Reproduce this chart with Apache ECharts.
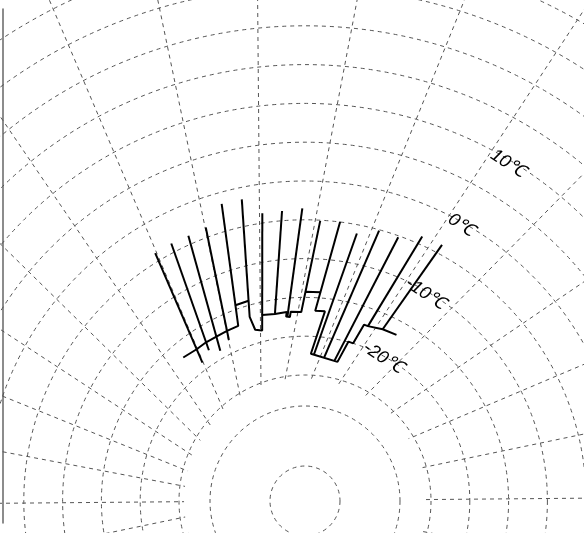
<!DOCTYPE html>
<html><head><meta charset="utf-8">
<script src="https://cdn.jsdelivr.net/npm/echarts@6/dist/echarts.min.js"></script>
<style>html,body{margin:0;padding:0;background:#fff}#c{width:584px;height:533px}</style>
</head><body><div id="c"></div>
<script>
// ---- data (temperatures in degC) ----
const stations = ['S1','S2','S3','S4','S5','S6','S7','S8','S9','S10','S11','S12','S13','S14','S15','S16'];
const maxTemp = [-9.1, -8.7, -8.4, -7.9, -5.2, -4.9, -6.8, -6.4, -5.8, -7.0, -6.5, -7.3, -5.9, -5.6, -4.0, -3.5];
const minTemp = [-24.6, -23.4, -23.9, -22.8, -18.5, -18.1, -20.0, -19.8, -20.0, -16.4, -16.0, -24.0, -23.8, -23.6, -17.6, -16.9];
// stepped base outline: position (in station units) and temperature
const outlinePos  = [-0.4, 1, 2, 3, 4, 5, 5, 6, 6, 6.4, 7, 7, 8, 8.9, 8.9, 9.2, 9.2, 10, 10, 11, 11, 11.7, 11.7, 14.3, 14.3, 14.7, 14.7, 15, 16, 17];
const outlineTemp = [-22.9, -22.7, -22.3, -22.0, -21.6, -21.2, -18.5, -18.1, -20.2, -21.9, -22.0, -20.0, -19.8, -19.4, -20.0, -20.0, -19.3, -19.1, -16.4, -16.0, -18.5, -18.2, -24.0, -23.6, -20.6, -20.5, -17.7, -17.6, -16.9, -16.4];
const tempTicks = [-20, -10, 0, 10];
const tempTickLabels = ['-20℃', '-10℃', '0℃', '10℃'];

const grid = {color: '#555', width: 1, type: [4, 4]};
const off = {show: false};
const chart = echarts.init(document.getElementById('c'), null, {renderer: 'canvas'});
chart.setOption({
  animation: false,
  backgroundColor: '#fff',
  grid: {left: 3, top: 9, bottom: 10, width: 1},
  xAxis: {type: 'value', show: false, min: 0, max: 1},
  yAxis: {type: 'value', min: 0, max: 1, axisLine: {show: true, onZero: false, lineStyle: {color: '#666', width: 1.5}},
          axisTick: off, axisLabel: off, splitLine: off},
  polar: [
    {center: [305, 501], radius: [126, 591.6]},
    {center: [305, 501], radius: [35, 95]},
    {center: [305, 501], radius: [0, 121]},
    {center: [262, 501], radius: [0, 800]},
    {center: [262, 501], radius: [109, 725]},
    {center: [262, 501], radius: [109, 725]}
  ],
  angleAxis: [
    {polarIndex: 0, type: 'value', min: 0, max: 360, show: false},
    {polarIndex: 1, type: 'value', min: 0, max: 360, show: false},
    {polarIndex: 2, type: 'value', min: 0, max: 360, show: false},
    {polarIndex: 3, type: 'value', min: 0, max: 360, interval: 11.25, startAngle: 90.5,
     axisLine: off, axisTick: off, axisLabel: off, splitLine: {show: true, lineStyle: grid}, z: 1},
    {polarIndex: 4, type: 'value', min: -0.5, max: 17.5, startAngle: 119.14, endAngle: 49.06, show: false},
    {polarIndex: 5, type: 'value', min: 0, max: 360, startAngle: 56.5, show: false}
  ],
  radiusAxis: [
    {polarIndex: 0, type: 'value', min: 0, max: 12, interval: 1, axisLine: off, axisTick: off, axisLabel: off,
     splitLine: {show: true, lineStyle: grid}, z: 3},
    {polarIndex: 1, type: 'value', min: 0, max: 1, interval: 1, axisLine: off, axisTick: off, axisLabel: off,
     splitLine: {show: true, lineStyle: grid}, z: 3},
    {polarIndex: 2, type: 'value', min: 0, max: 1, interval: 1, axisLine: off, axisTick: off, axisLabel: off,
     splitLine: off, splitArea: {show: true, areaStyle: {color: ['#fff']}}, z: 2},
    {polarIndex: 3, type: 'value', min: 0, max: 1, show: false},
    {polarIndex: 4, type: 'value', min: -30, max: 50, show: false},
    {polarIndex: 5, type: 'value', min: -30, max: 50, interval: 10, axisLine: off, axisTick: off, splitLine: off,
     axisLabel: {show: true, margin: 0, rotate: -33.5, align: 'left', verticalAlign: 'middle',
       fontFamily: 'Liberation Sans', fontStyle: 'italic', fontSize: 18, color: '#000',
       formatter: function (v) { const i = tempTicks.indexOf(v); return i >= 0 ? tempTickLabels[i] : ''; }},
     z: 10}
  ],
  series: [
    {
      type: 'custom', coordinateSystem: 'polar', polarIndex: 4, z: 10,
      data: stations.map(function (s, i) { return [i + 1, minTemp[i], maxTemp[i]]; }),
      encode: {angle: 0, radius: [1, 2]},
      renderItem: function (params, api) {
        const p = api.value(0);
        const a = api.coord([api.value(1), p]);
        const b = api.coord([api.value(2), p]);
        return {type: 'line', shape: {x1: a[0], y1: a[1], x2: b[0], y2: b[1]},
                style: {stroke: '#000', lineWidth: 2}};
      }
    },
    {
      type: 'line', coordinateSystem: 'polar', polarIndex: 4, z: 10, symbol: 'none',
      data: outlinePos.map(function (p, i) { return [outlineTemp[i], p]; }),
      lineStyle: {color: '#000', width: 2}
    }
  ]
});
</script></body></html>
